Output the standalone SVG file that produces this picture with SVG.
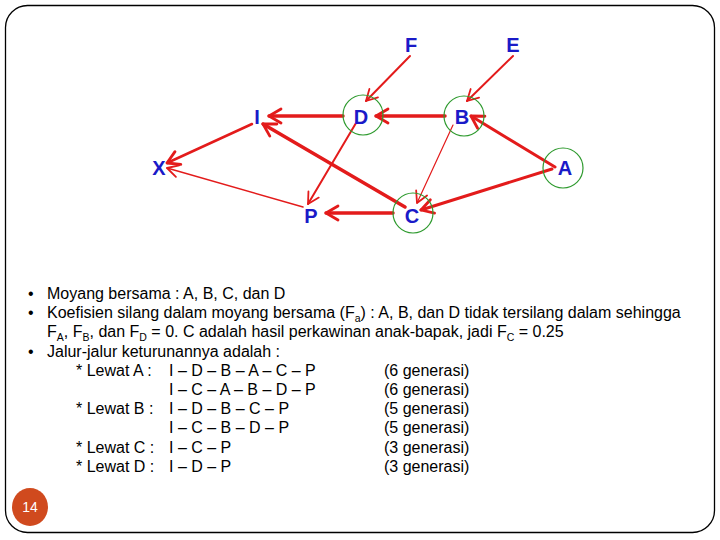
<svg xmlns="http://www.w3.org/2000/svg" width="720" height="540" viewBox="0 0 720 540">
<defs>
<style>
.lbl{font-family:"Liberation Sans",Arial,sans-serif;font-weight:bold;font-size:20px;fill:#1a1ac8;text-anchor:middle}
.ring{fill:none;stroke:#2e9a2e;stroke-width:1.2}
.e{fill:none;stroke:#e31b1b;stroke-linecap:round}
.t{font-family:"Liberation Sans",Arial,sans-serif;font-size:16px;fill:#000}
</style>
<marker id="ah" viewBox="-14 -9 17 18" refX="0" refY="0" markerWidth="17" markerHeight="18" markerUnits="userSpaceOnUse" orient="auto">
<path d="M-12,-7 L0,0 L-12,7" fill="none" stroke="#e31b1b" stroke-width="2.8" stroke-linecap="round" stroke-linejoin="round"/>
</marker>
<marker id="ahs" viewBox="-14 -9 17 18" refX="0" refY="0" markerWidth="17" markerHeight="18" markerUnits="userSpaceOnUse" orient="auto">
<path d="M-11,-6 L0,0 L-11,6" fill="none" stroke="#e31b1b" stroke-width="1.8" stroke-linecap="round" stroke-linejoin="round"/>
</marker>
</defs>
<rect x="0" y="0" width="720" height="540" fill="#fff"/>
<rect x="5.5" y="5.5" width="709" height="527" rx="22" ry="22" fill="none" stroke="#000" stroke-width="1.3"/>

<g id="connectors">
<line class="e" x1="410" y1="56" x2="366" y2="101" stroke-width="2" marker-end="url(#ahs)"/>
<line class="e" x1="513" y1="56" x2="467" y2="101" stroke-width="2" marker-end="url(#ahs)"/>
<line class="e" x1="343" y1="116" x2="269" y2="116" stroke-width="3.5" marker-end="url(#ah)"/>
<line class="e" x1="445" y1="116" x2="376" y2="116" stroke-width="3.5" marker-end="url(#ah)"/>
<line class="e" x1="555" y1="167" x2="471" y2="116" stroke-width="3" marker-end="url(#ah)"/>
<line class="e" x1="552" y1="169" x2="421" y2="210" stroke-width="3" marker-end="url(#ah)"/>
<line class="e" x1="453" y1="125" x2="417" y2="203" stroke-width="1.2" marker-end="url(#ahs)"/>
<line class="e" x1="405" y1="207" x2="263" y2="124" stroke-width="3.5" marker-end="url(#ah)"/>
<line class="e" x1="356" y1="123" x2="308" y2="204" stroke-width="2" marker-end="url(#ahs)"/>
<line class="e" x1="393" y1="213" x2="326" y2="213" stroke-width="3.5" marker-end="url(#ah)"/>
<line class="e" x1="252" y1="124" x2="167" y2="163" stroke-width="2.5" marker-end="url(#ah)"/>
<line class="e" x1="303" y1="207" x2="167" y2="168" stroke-width="1.5" marker-end="url(#ahs)"/>
</g>

<g id="node-F"><text class="lbl" x="411" y="52">F</text></g>
<g id="node-E"><text class="lbl" x="513" y="52">E</text></g>
<g id="node-I"><text class="lbl" x="257" y="124">I</text></g>
<g id="node-D"><circle class="ring" cx="363" cy="115" r="20"/><text class="lbl" x="361" y="124">D</text></g>
<g id="node-B"><circle class="ring" cx="464" cy="116" r="20"/><text class="lbl" x="462" y="124">B</text></g>
<g id="node-X"><text class="lbl" x="159" y="175">X</text></g>
<g id="node-A"><circle class="ring" cx="563" cy="168" r="20"/><text class="lbl" x="565" y="175">A</text></g>
<g id="node-P"><text class="lbl" x="311" y="223">P</text></g>
<g id="node-C"><circle class="ring" cx="413" cy="213" r="20"/><text class="lbl" x="412" y="223">C</text></g>

<g id="notes" class="t">
<text x="28" y="299">•</text><text x="47" y="299">Moyang bersama : A, B, C, dan D</text>
<text x="28" y="318">•</text><text x="47" y="318">Koefisien silang dalam moyang bersama (F<tspan font-size="10.5" dy="4">a</tspan><tspan dy="-4">) : A, B, dan D tidak tersilang dalam sehingga</tspan></text>
<text x="47" y="337">F<tspan font-size="10.5" dy="4">A</tspan><tspan dy="-4">, F</tspan><tspan font-size="10.5" dy="4">B</tspan><tspan dy="-4">, dan F</tspan><tspan font-size="10.5" dy="4">D</tspan><tspan dy="-4"> = 0. C adalah hasil perkawinan anak-bapak, jadi F</tspan><tspan font-size="10.5" dy="4">C</tspan><tspan dy="-4"> = 0.25</tspan></text>
<text x="28" y="357">•</text><text x="47" y="357">Jalur-jalur keturunannya adalah :</text>
<text x="76" y="376">* Lewat A :</text><text x="169" y="376">I – D – B – A – C – P</text><text x="384" y="376">(6 generasi)</text>
<text x="169" y="395">I – C – A – B – D – P</text><text x="384" y="395">(6 generasi)</text>
<text x="76" y="414">* Lewat B :</text><text x="169" y="414">I – D – B – C – P</text><text x="384" y="414">(5 generasi)</text>
<text x="169" y="433">I – C – B – D – P</text><text x="384" y="433">(5 generasi)</text>
<text x="76" y="453">* Lewat C :</text><text x="169" y="453">I – C – P</text><text x="384" y="453">(3 generasi)</text>
<text x="76" y="472">* Lewat D :</text><text x="169" y="472">I – D – P</text><text x="384" y="472">(3 generasi)</text>
</g>

<g id="page-number">
<ellipse cx="30" cy="507" rx="18" ry="19" fill="#d04a1e"/>
<text x="30" y="512" font-family="Liberation Sans,Arial,sans-serif" font-size="14" fill="#fff" text-anchor="middle">14</text>
</g>
</svg>
